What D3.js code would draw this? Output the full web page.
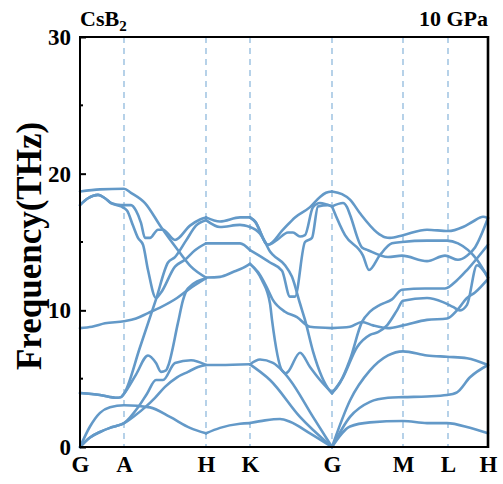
<!DOCTYPE html>
<html><head><meta charset="utf-8">
<script src="https://cdn.jsdelivr.net/npm/d3@7"></script>
<style>body{margin:0;background:#fff}svg{display:block}</style>
</head><body><svg id="c" width="503" height="484"></svg>
<script>
// High-symmetry points (path distance units) and labels
const kPoints = [0, 44, 126, 170, 252, 323, 368, 408];
const kLabels = ["G", "A", "H", "K", "G", "M", "L", "H"];
const yTicks = [0, 10, 20, 30];
const yMinor = [5, 15, 25];

// Leg G -> A -> H : [k, THz]
const bandsGAH = [
  [[0,0],[10,0.7],[20,1.1],[30,1.4],[37,1.55],[44,1.75],[55,2.3],[65,2.9],[75,3.6],[85,4.4],[97,5.1],[108,5.5],[118,5.85],[126,6.0]],
  [[0,0],[10,0.7],[20,1.1],[30,1.4],[37,1.55],[44,1.75],[58,2.9],[67,3.9],[76,4.9],[83,4.9],[95,6.15],[111,6.35],[126,6.0]],
  [[0,0],[10,1.5],[20,2.5],[30,2.9],[44,3.05],[70,2.9],[90,2.2],[110,1.4],[126,1.0]],
  [[0,3.95],[20,3.8],[37,3.6],[41,3.65],[44,3.9],[60,7.3],[76,10.8],[88,13.5],[95,13.9],[106,15.1],[116,16.2],[126,16.6]],
  [[0,3.95],[20,3.8],[37,3.6],[41,3.65],[44,3.9],[56,5.3],[68,6.7],[76,6.15],[81,5.5],[86,5.6],[88,5.9],[98,9.1],[103,10.75],[108,11.6],[126,12.35]],
  [[0,8.7],[12,8.8],[25,9.05],[44,9.2],[56,9.4],[68,9.8],[80,10.2],[97,10.9],[108,11.5],[126,12.35]],
  [[0,17.7],[8,18.2],[18,18.45],[25,18.2],[31,17.85],[41,17.7],[51,17.7],[56,17.3],[61,16.4],[65,15.3],[70,15.3],[78,15.9],[83,15.9],[95,15.15],[110,16.2],[120,16.65],[126,16.8]],
  [[0,17.7],[8,18.2],[18,18.45],[25,18.2],[31,17.85],[41,17.6],[47,17.3],[53,16.2],[58,15.3],[63,14.8],[68,12.95],[76,10.9],[81,11.3],[95,13.2],[105,13.7],[115,14.4],[126,14.9]],
  [[0,18.7],[20,18.85],[44,18.9],[51,18.6],[65,17.85],[81,16.1],[98,14.4],[111,13.2],[126,12.4]]
];

// Leg H -> K
const bandsHK = [
  [[126,16.8],[140,16.5],[160,16.8],[170,16.8]],
  [[126,16.6],[140,16.1],[160,16.25],[170,16.1]],
  [[126,14.9],[160,14.9],[170,14.4]],
  [[126,12.4],[140,12.45],[153,12.8],[163,13.1],[170,13.4]],
  [[126,6.0],[140,6.0],[170,6.05]],
  [[126,1.0],[140,1.4],[160,1.7],[170,1.75]]
];

// Leg K -> G
const bandsKG = [
  [[170,1.75],[185,1.95],[200,2.05],[210,1.85],[230,1.0],[252,0]],
  [[170,6.05],[180,6.4],[193,6.15],[202,5.6],[210,4.9],[233,2.2],[252,0]],
  [[170,6.05],[187,5.1],[190,4.9],[220,2.2],[252,0]],
  [[170,13.4],[178,12.8],[186,11.8],[193,10.75],[205,9.9],[217,9.5],[230,8.8],[252,8.7]],
  [[170,13.4],[182,12.2],[190,10.5],[192,9.3],[202,5.6],[206,5.4],[208,5.5],[220,6.9],[230,5.85],[240,4.9],[252,3.95]],
  [[170,14.4],[178,14.05],[190,13.5],[202,12.9],[210,11.0],[215,11.0],[225,15.0],[232,15.3],[238,17.6],[248,17.7],[252,17.6]],
  [[170,16.1],[180,15.6],[185,15.0],[190,14.3],[193,14.05],[205,13.3],[212,12.45],[220,10.5],[225,9.3],[233,7.0],[250,4.1],[252,3.95]],
  [[170,16.8],[175,16.5],[188,14.8],[203,15.9],[215,16.8],[230,17.55],[240,18.3],[246,18.6],[252,18.7]],
  [[170,16.8],[175,16.5],[188,14.8],[197,15.15],[208,15.7],[213,15.7],[220,15.4],[225,15.5],[233,17.55],[240,17.85],[252,17.6]]
];

// Leg G -> M -> L -> H
const bandsGMLH = [
  [[252,18.7],[262,18.5],[270,18.1],[280,17.1],[297,15.7],[305,15.35],[310,15.3],[323,15.5],[347,15.9],[368,15.8],[383,16.1],[393,16.5],[403,16.85],[408,16.75]],
  [[252,17.6],[263,17.85],[267,17.55],[270,17.0],[282,14.6],[288,14.4],[308,13.9],[322,14.0],[347,13.6],[365,14.0],[378,13.7],[387,14.0],[395,14.6],[408,16.75]],
  [[252,17.6],[265,15.5],[283,14.0],[289,12.95],[300,14.05],[312,14.9],[322,15.0],[347,15.1],[367,15.1],[378,14.9],[397,13.7],[408,12.4]],
  [[252,8.7],[270,8.8],[282,9.15],[293,8.9],[308,8.7],[323,8.9],[347,9.3],[367,9.4],[377,10.0],[387,10.9],[395,11.3],[408,12.3]],
  [[252,3.95],[260,4.7],[270,6.4],[282,9.15],[290,9.9],[300,10.4],[312,10.8],[322,11.5],[345,11.6],[365,11.6],[377,12.2],[387,12.95],[408,14.8]],
  [[252,3.95],[263,5.1],[277,7.3],[290,8.2],[298,8.4],[307,8.9],[317,10.0],[323,10.7],[347,10.9],[363,10.6],[373,10.25],[380,10.0],[387,10.4],[397,13.3],[408,12.4]],
  [[252,0],[270,3.4],[290,5.6],[308,6.7],[323,7.0],[347,6.7],[367,6.6],[387,6.5],[408,6.0]],
  [[252,0],[270,2.2],[290,3.3],[308,3.6],[323,3.65],[347,3.7],[367,3.8],[377,4.0],[390,5.1],[408,6.0]],
  [[252,0],[270,1.5],[290,1.8],[323,1.9],[347,1.75],[367,1.75],[390,1.4],[408,1.0]]
];

const svg = d3.select("#c");
const m = {l: 80, r: 488, t: 37, b: 447};
const x = d3.scaleLinear().domain([0, 408]).range([m.l, m.r]);
const y = d3.scaleLinear().domain([0, 30]).range([m.b, m.t]);
const bandColor = "#6399c8";
const serif = "'Liberation Serif','Times New Roman',serif";

// dashed high-symmetry lines
svg.append("g").selectAll("line").data(kPoints.slice(1, -1)).join("line")
  .attr("x1", d => x(d)).attr("x2", d => x(d))
  .attr("y1", m.t).attr("y2", m.b)
  .attr("stroke", "#86b4da").attr("stroke-width", 1.2)
  .attr("stroke-dasharray", "6,5");

// bands
const line = d3.line().x(d => x(d[0])).y(d => y(d[1])).curve(d3.curveMonotoneX);
const allBands = [].concat(bandsGAH, bandsHK, bandsKG, bandsGMLH);
svg.append("g").selectAll("path").data(allBands).join("path")
  .attr("d", line).attr("fill", "none")
  .attr("stroke", bandColor).attr("stroke-width", 2.6)
  .attr("stroke-linejoin", "round").attr("stroke-linecap", "round");

// frame
svg.append("rect").attr("x", m.l).attr("y", m.t)
  .attr("width", m.r - m.l).attr("height", m.b - m.t)
  .attr("fill", "none").attr("stroke", "#000").attr("stroke-width", 2);
svg.append("line").attr("x1", m.r).attr("x2", m.r).attr("y1", m.t - 1).attr("y2", m.b + 1)
  .attr("stroke", "#000").attr("stroke-width", 2.6);

// y axis
const yAxis = d3.axisLeft(y).tickValues(yTicks).tickSize(-6).tickPadding(9).tickFormat(d3.format("d"));
const gy = svg.append("g").attr("transform", `translate(${m.l},0)`).call(yAxis);
gy.select(".domain").remove();
gy.selectAll(".tick line").attr("stroke", "#000").attr("stroke-width", 2);
gy.selectAll(".tick text").attr("font-family", serif).attr("font-weight", "bold")
  .attr("font-size", 23).attr("fill", "#000");
svg.append("g").selectAll("line").data(yMinor).join("line")
  .attr("x1", m.l).attr("x2", m.l + 3).attr("y1", d => y(d)).attr("y2", d => y(d))
  .attr("stroke", "#000").attr("stroke-width", 2);

// x axis labels
const xAxis = d3.axisBottom(x).tickValues(kPoints).tickSize(0).tickPadding(9)
  .tickFormat((d, i) => kLabels[i]);
const gx = svg.append("g").attr("transform", `translate(0,${m.b})`).call(xAxis);
gx.select(".domain").remove();
gx.selectAll(".tick text").attr("font-family", serif).attr("font-weight", "bold")
  .attr("font-size", 23).attr("fill", "#000");

// y label
svg.append("text").attr("transform", `translate(41,${(m.t + m.b) / 2 + 4}) rotate(-90)`)
  .attr("text-anchor", "middle").attr("font-family", serif).attr("font-weight", "bold")
  .attr("font-size", 35).attr("fill", "#000").text("Frequency(THz)");

// titles
const t1 = svg.append("text").attr("x", 80).attr("y", 26).attr("font-family", serif)
  .attr("font-weight", "bold").attr("font-size", 22).attr("fill", "#000");
t1.append("tspan").text("CsB");
t1.append("tspan").attr("font-size", 15).attr("dy", 5).text("2");
svg.append("text").attr("x", 488).attr("y", 26).attr("text-anchor", "end")
  .attr("font-family", serif).attr("font-weight", "bold").attr("font-size", 22)
  .attr("fill", "#000").text("10 GPa");
</script></body></html>
